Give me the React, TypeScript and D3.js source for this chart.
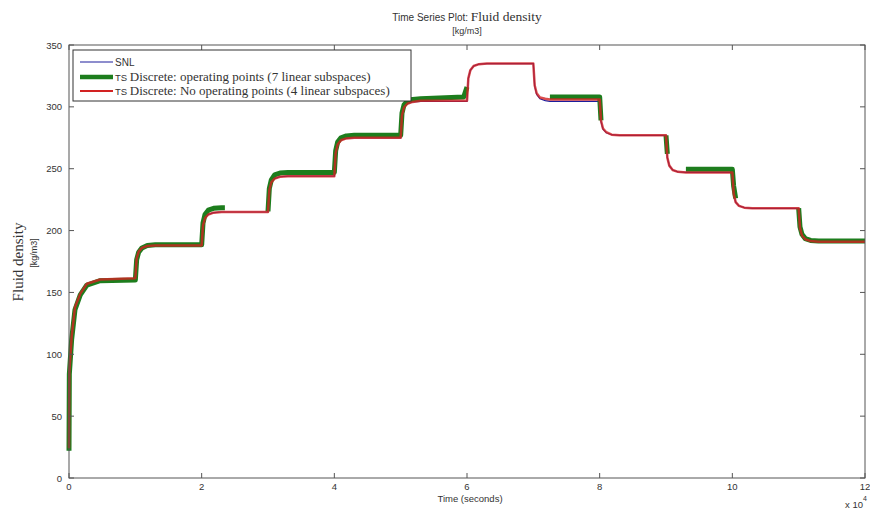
import React from "react";
import * as d3 from "d3";

// ---- data (time in seconds, density in kg/m3) ----
const timeSec = [
  0, 50, 400, 900, 1700, 2700, 4700,
  10000, 10200, 10500, 11000, 11800, 13000,
  20000, 20200, 20500, 21000, 21800, 23000, 23500, 25000,
  30000, 30200, 30500, 31000, 31800, 33000,
  40000, 40200, 40500, 41000, 41800, 43000,
  50000, 50200, 50500, 51000, 51800, 53000, 59500,
  60000, 60200, 60500, 61000, 61800, 63000,
  70000, 70200, 70500, 71000, 71800, 72500, 73000,
  80000, 80200, 80500, 81000, 81800, 83000,
  90000, 90200, 90500, 91000, 91800, 93000,
  100000, 100200, 100500, 101000, 101800, 103000,
  110000, 110200, 110500, 111000, 111800, 113000,
  120000,
];

const snlValues = [
  22, 87, 114, 138, 149, 157, 160.5,
  161, 177.5, 183, 186, 187.5, 188,
  188, 204, 210, 213, 214.5, 215, 215, 215,
  215, 232.5, 239, 242, 243.5, 244,
  244, 262.5, 269.5, 273, 274.5, 275,
  275, 293, 299.5, 302.5, 304, 304.5, 304.5,
  304.5, 323, 329.5, 333, 334.5, 335,
  335, 317, 310, 306.5, 305, 304.5, 304.5,
  304.5, 288, 282, 279, 277.5, 277,
  277, 259, 252.5, 249, 247.5, 247,
  247, 230, 223, 220, 218.5, 218,
  218, 202, 196, 193, 191.5, 191,
  191,
];

const opPointsValues: (number | null)[] = [
  22, 84, 112, 136, 148, 156, 159.5,
  160, 176.5, 182.5, 186, 188, 188.5,
  188.5, 206, 213, 216.5, 218, 218.5, 218.5, null,
  215.5, 234, 241, 245, 246.5, 247,
  247, 264.5, 271.5, 275, 276.5, 277,
  277, 295, 301.5, 304.5, 306, 306.5, 308,
  316, null, null, null, null, null,
  null, null, null, null, null, 308, 308,
  308, 289, null, null, null, null,
  277, 262, null, null, null, 249.5,
  249.5, 236, 226, null, null, null,
  218, 203, 197, 193.5, 192, 191.5,
  191.5,
];

const noOpPointsValues = [
  24, 86, 114, 138, 149, 157, 160.5,
  161.5, 177.5, 183, 186, 187.5, 188,
  188, 204, 210, 213, 214.5, 215, 215, 215,
  215, 232.5, 239, 242, 243.5, 244,
  244, 262.5, 269.5, 273, 274.5, 275,
  275, 293, 299.5, 302.5, 304, 305, 305,
  305, 323, 329.5, 333, 334.5, 335,
  335, 317.5, 311, 307.5, 306.5, 306, 306,
  306, 289, 282.5, 279.5, 277.5, 277,
  277, 259, 252.5, 249, 247.5, 247,
  247, 230, 223, 220, 218.5, 218,
  218, 202, 196, 193, 191.5, 191,
  191,
];

const xTickValues = [0, 2, 4, 6, 8, 10, 12]; // x 10^4 seconds
const yTickValues = [0, 50, 100, 150, 200, 250, 300, 350];

const seriesNames = [
  "SNL",
  "Discrete: operating points (7 linear subspaces)",
  "Discrete: No operating points (4 linear subspaces)",
];

const SANS = "'Liberation Sans', Arial, Helvetica, sans-serif";
const SERIF = "'Liberation Serif', 'Times New Roman', Times, serif";

export default function App() {
  const W = 870;
  const H = 512;
  const left = 69;
  const right = 865;
  const top = 45;
  const bottom = 478;

  const x = d3.scaleLinear().domain([0, 120000]).range([left, right]);
  const xt = d3.scaleLinear().domain([0, 12]).range([left, right]);
  const y = d3.scaleLinear().domain([0, 350]).range([bottom, top]);

  type P = { t: number; v: number | null };
  const mk = (vals: (number | null)[]): P[] => timeSec.map((t, i) => ({ t, v: vals[i] }));

  const line = d3
    .line<P>()
    .defined((d) => d.v !== null && d.v !== undefined)
    .x((d) => x(d.t))
    .y((d) => y(d.v as number));

  const snlPath = line(mk(snlValues)) || "";
  const opPath = line(mk(opPointsValues)) || "";
  const noOpPath = line(mk(noOpPointsValues)) || "";

  const blue = "#1c1c9c";
  const green = "#1d7d1d";
  const red = "#d22222";
  const axisCol = "#555";
  const textCol = "#333";
  const tick = 5;

  const lgX0 = 80;
  const lgX1 = 113;

  return (
    <svg
      width={W}
      height={H}
      viewBox={`0 0 ${W} ${H}`}
      style={{ position: "absolute", left: 0, top: 0, background: "#fff" }}
    >
      <rect x={0} y={0} width={W} height={H} fill="#fff" />

      {/* title */}
      <text x={467} y={21} textAnchor="middle" fill={textCol}>
        <tspan fontFamily={SANS} fontSize={10}>Time Series Plot: </tspan>
        <tspan fontFamily={SERIF} fontSize={13.5}>Fluid density</tspan>
      </text>
      <text x={467} y={34} textAnchor="middle" fill={textCol} fontFamily={SANS} fontSize={9}>
        [kg/m3]
      </text>

      {/* data lines */}
      <path d={snlPath} fill="none" stroke={blue} strokeWidth={1.2} />
      <path d={opPath} fill="none" stroke={green} strokeWidth={5} strokeLinejoin="round" />
      <path
        d={noOpPath}
        fill="none"
        stroke={red}
        strokeOpacity={0.8}
        strokeWidth={2.5}
        strokeLinejoin="round"
      />

      {/* axes box */}
      <rect
        x={left}
        y={top}
        width={right - left}
        height={bottom - top}
        fill="none"
        stroke={axisCol}
        strokeWidth={1}
      />

      {/* x ticks */}
      {xTickValues.map((v) => (
        <g key={"xt" + v}>
          <line x1={xt(v)} x2={xt(v)} y1={bottom} y2={bottom - tick} stroke={axisCol} />
          <line x1={xt(v)} x2={xt(v)} y1={top} y2={top + tick} stroke={axisCol} />
          <text
            x={xt(v)}
            y={490}
            textAnchor="middle"
            fontFamily={SANS}
            fontSize={9.5}
            fill={textCol}
          >
            {v}
          </text>
        </g>
      ))}

      {/* y ticks */}
      {yTickValues.map((v) => (
        <g key={"yt" + v}>
          <line x1={left} x2={left + tick} y1={y(v)} y2={y(v)} stroke={axisCol} />
          <line x1={right} x2={right - tick} y1={y(v)} y2={y(v)} stroke={axisCol} />
          <text
            x={62}
            y={y(v) + 3.5}
            textAnchor="end"
            fontFamily={SANS}
            fontSize={9.5}
            fill={textCol}
          >
            {v}
          </text>
        </g>
      ))}

      {/* axis labels */}
      <text x={470} y={502} textAnchor="middle" fontFamily={SANS} fontSize={9.5} fill={textCol}>
        Time (seconds)
      </text>
      <text x={845} y={508} fontFamily={SANS} fontSize={9.5} fill={textCol}>
        x 10
      </text>
      <text x={863} y={501} fontFamily={SANS} fontSize={7} fill={textCol}>
        4
      </text>

      <text
        transform="translate(23,262) rotate(-90)"
        textAnchor="middle"
        fontFamily={SERIF}
        fontSize={15}
        fill={textCol}
      >
        Fluid density
      </text>
      <text
        transform="translate(37,253) rotate(-90)"
        textAnchor="middle"
        fontFamily={SANS}
        fontSize={9}
        fill={textCol}
      >
        [kg/m3]
      </text>

      {/* legend */}
      <rect x={73} y={50} width={338} height={51} fill="#fff" stroke="#333" strokeWidth={1} />
      <line x1={lgX0} x2={lgX1} y1={62} y2={62} stroke={blue} strokeWidth={1.2} />
      <text x={115} y={65.5} fontFamily={SANS} fontSize={10} fill={textCol}>
        {seriesNames[0]}
      </text>
      <line x1={lgX0} x2={lgX1} y1={77} y2={77} stroke={green} strokeWidth={4.5} />
      <text x={115} y={81} fill={textCol}>
        <tspan fontFamily={SANS} fontSize={9.5}>TS </tspan>
        <tspan fontFamily={SERIF} fontSize={13}>{seriesNames[1]}</tspan>
      </text>
      <line x1={lgX0} x2={lgX1} y1={91} y2={91} stroke={red} strokeWidth={2} />
      <text x={115} y={95} fill={textCol}>
        <tspan fontFamily={SANS} fontSize={9.5}>TS </tspan>
        <tspan fontFamily={SERIF} fontSize={13}>{seriesNames[2]}</tspan>
      </text>
    </svg>
  );
}
